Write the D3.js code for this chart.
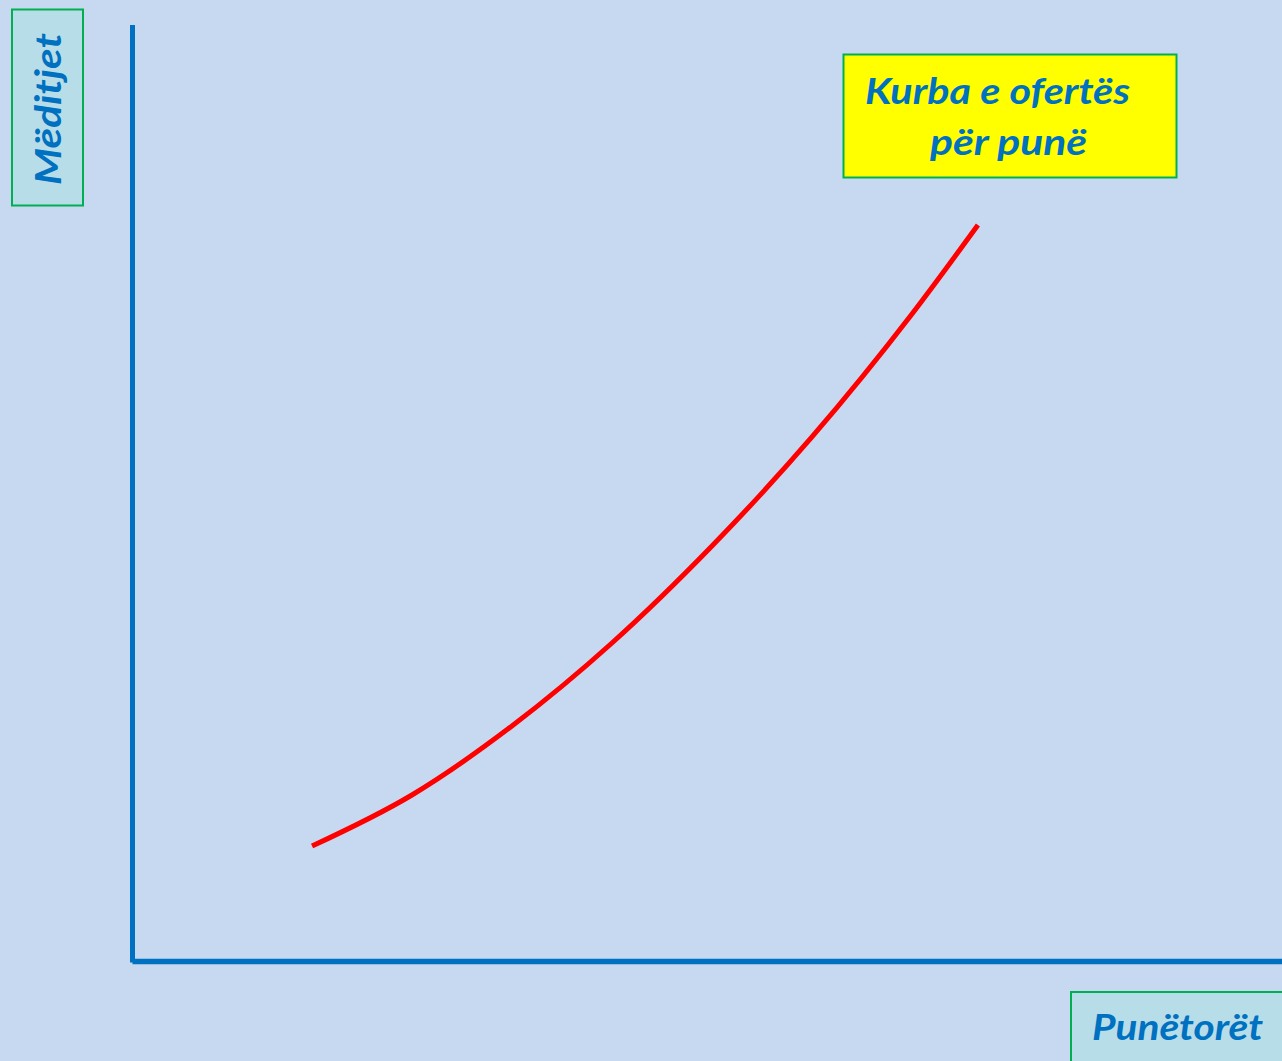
<!DOCTYPE html>
<html>
<head>
<meta charset="utf-8">
<script src="https://cdn.jsdelivr.net/npm/d3@7"></script>
<style>
  html, body { margin: 0; padding: 0; background: #c6d9f0; overflow: hidden; }
  svg { display: block; }
  text { font-family: Lato, "Open Sans", "Noto Sans", sans-serif; font-weight: bold; font-style: italic; fill: #0070c0; }
</style>
</head>
<body>
<svg id="chart" width="1282" height="1061"></svg>
<script>
// Data (abstract units: workers on x, wages on y)
const workers = [15.62, 24.31, 33.01, 41.71, 50.41, 59.11, 67.81, 73.55];
const wages   = [12.33, 17.78, 25.15, 34.01, 44.37, 56.01, 69.14, 78.64];
const yLabel = "Mëditjet";
const xLabel = "Punëtorët";
const legendLines = ["Kurba e ofertës", "për punë"];

const W = 1282, H = 1061;
const svg = d3.select("#chart");
svg.append("rect").attr("width", W).attr("height", H).attr("fill", "#c6d9f0");

const x = d3.scaleLinear().domain([0, 100]).range([132.5, 1282]);
const y = d3.scaleLinear().domain([0, 100]).range([961.5, 25]);

// axes
svg.append("line")
  .attr("x1", x(0)).attr("x2", x(0)).attr("y1", y(100)).attr("y2", y(0) + 1)
  .attr("stroke", "#0070c0").attr("stroke-width", 5);
svg.append("line")
  .attr("x1", x(0)).attr("x2", x(100)).attr("y1", y(0)).attr("y2", y(0))
  .attr("stroke", "#0070c0").attr("stroke-width", 5.5);

// supply curve
const pts = workers.map((w, i) => [w, wages[i]]);
const line = d3.line().x(d => x(d[0])).y(d => y(d[1])).curve(d3.curveMonotoneX);
svg.append("path").datum(pts)
  .attr("d", line)
  .attr("fill", "none")
  .attr("stroke", "#ff0000")
  .attr("stroke-width", 5);

// y label box
svg.append("rect").attr("x", 12).attr("y", 9.5).attr("width", 71).attr("height", 196)
  .attr("fill", "#b7dee8").attr("stroke", "#00b050").attr("stroke-width", 2);
svg.append("text")
  .attr("transform", "translate(61,109) rotate(-90)")
  .attr("text-anchor", "middle")
  .attr("font-size", 37)
  .attr("textLength", 152).attr("lengthAdjust", "spacingAndGlyphs")
  .text(yLabel);

// x label box
svg.append("rect").attr("x", 1071).attr("y", 992).attr("width", 230).attr("height", 100)
  .attr("fill", "#b7dee8").attr("stroke", "#00b050").attr("stroke-width", 2);
svg.append("text")
  .attr("x", 1092).attr("y", 1040)
  .attr("font-size", 37)
  .attr("textLength", 171).attr("lengthAdjust", "spacingAndGlyphs")
  .text(xLabel);

// legend box
svg.append("rect").attr("x", 843.5).attr("y", 54.5).attr("width", 333).attr("height", 123)
  .attr("fill", "#ffff00").attr("stroke", "#00b050").attr("stroke-width", 2);
svg.append("text")
  .attr("x", 865).attr("y", 104)
  .attr("font-size", 37)
  .attr("textLength", 265).attr("lengthAdjust", "spacingAndGlyphs")
  .text(legendLines[0]);
svg.append("text")
  .attr("x", 930).attr("y", 155)
  .attr("font-size", 37)
  .attr("textLength", 157).attr("lengthAdjust", "spacingAndGlyphs")
  .text(legendLines[1]);
</script>
</body>
</html>
